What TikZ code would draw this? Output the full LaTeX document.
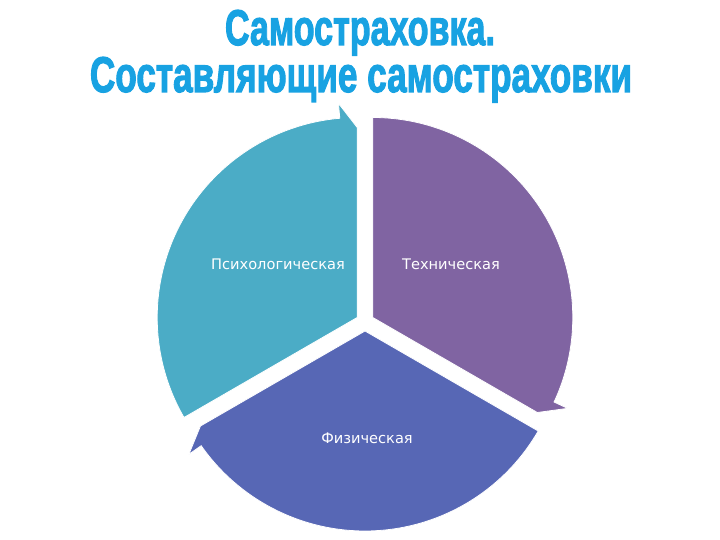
\documentclass[tikz,border=0pt]{standalone}
\usepackage{fontspec}
\setmainfont{DejaVu Sans}
\newfontfamily\titlefont[FakeBold=2.5]{Liberation Sans Bold}
\newfontfamily\labelfont{DejaVu Sans}
\usepackage{graphicx}
\definecolor{titleblue}{HTML}{18A2E2}
\definecolor{segteal}{HTML}{4BACC6}
\definecolor{segpurple}{HTML}{8064A2}
\definecolor{segblue}{HTML}{5767B5}
\tikzset{
  segment/.style={draw=white, line width=0.8pt},
  seglabel/.style={text=white, font=\labelfont\fontsize{14.6}{16}\selectfont, inner sep=0pt},
  titletext/.style={text=titleblue, inner sep=0pt, anchor=base}
}
\begin{document}
\begin{tikzpicture}[x=1pt,y=1pt]
\useasboundingbox (0,0) rectangle (720,540);
\coordinate (c) at (365,218);
% left segment (teal)
\begin{scope}[shift={(c)}, shift={(150:9)}]
  \fill[segteal, segment] (0,0) -- (210:200) arc[start angle=210, end angle=95, radius=200]
    -- (95:215) -- (90:190) -- cycle;
\end{scope}
% right segment (purple)
\begin{scope}[shift={(c)}, shift={(30:9)}]
  \fill[segpurple, segment] (0,0) -- (90:200) arc[start angle=90, end angle=-25, radius=200]
    -- (-25:215) -- (-30:190) -- cycle;
\end{scope}
% bottom segment (blue)
\begin{scope}[shift={(c)}, shift={(270:9)}]
  \fill[segblue, segment] (0,0) -- (330:200) arc[start angle=330, end angle=215, radius=200]
    -- (215:215) -- (210:190) -- cycle;
\end{scope}
\node[seglabel] (psy) at (278,276) {Психологическая};
\node[seglabel] (tech) at (451,276) {Техническая};
\node[seglabel] (phys) at (367,102) {Физическая};
\node[titletext] (t1) at (360,495) {\resizebox{270pt}{35pt}{\titlefont Самостраховка.}};
\node[titletext] (t2) at (361,448) {\resizebox{542pt}{35pt}{\titlefont Составляющие самостраховки}};
\end{tikzpicture}
\end{document}
